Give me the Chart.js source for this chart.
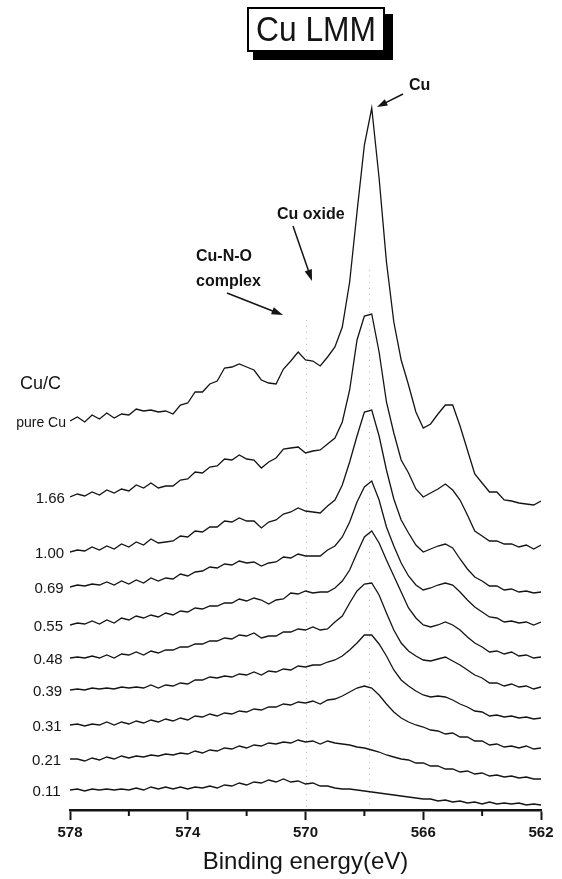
<!DOCTYPE html>
<html>
<head>
<meta charset="utf-8">
<title>Cu LMM</title>
<style>
  html, body { margin: 0; padding: 0; background: #fff; }
  #wrap { width: 562px; height: 879px; }
</style>
</head>
<body>
<div id="wrap"><canvas id="chart" width="562" height="879"></canvas></div>
<script src="https://cdn.jsdelivr.net/npm/chart.js@4.4.1/dist/chart.umd.min.js"></script>
<script>
// Cu LMM Auger spectra, stacked by Cu/C ratio

const energies = [578, 577.75, 577.5, 577.25, 577, 576.75, 576.5, 576.25, 576, 575.75,
  575.5, 575.25, 575, 574.75, 574.5, 574.25, 574, 573.75, 573.5, 573.25,
  573, 572.75, 572.5, 572.25, 572, 571.75, 571.5, 571.25, 571, 570.75,
  570.5, 570.25, 570, 569.75, 569.5, 569.25, 569, 568.75, 568.5, 568.25,
  568, 567.75, 567.5, 567.25, 567, 566.75, 566.5, 566.25, 566, 565.75,
  565.5, 565.25, 565, 564.75, 564.5, 564.25, 564, 563.75, 563.5, 563.25,
  563, 562.75, 562.5, 562.25, 562];

const seriesNames = ['pure Cu', '1.66', '1.00', '0.69', '0.55', '0.48', '0.39', '0.31', '0.21', '0.11'];

// intensities (arb. units, offset stacked)
const pureCu = [389, 393, 388, 395, 391, 397, 392, 396, 395, 401, 399, 400, 398, 399, 396, 405, 407, 418, 418, 426,
  429, 442, 443, 446, 443, 440, 430, 427, 426, 441, 449, 458, 450, 449, 444, 453, 463, 483, 528, 598,
  665, 702, 632, 548, 488, 450, 425, 398, 382, 386, 396, 405, 405, 384, 360, 336, 327, 318, 318, 310,
  309, 307, 306, 305, 309];
const r166 = [313, 316, 314, 318, 315, 320, 317, 321, 319, 325, 322, 327, 322, 324, 324, 330, 331, 338, 337, 343,
  344, 351, 350, 355, 351, 350, 342, 348, 352, 361, 362, 363, 357, 359, 360, 366, 372, 388, 420, 470,
  494, 496, 458, 408, 377, 350, 337, 321, 313, 317, 321, 326, 320, 310, 295, 279, 274, 269, 269, 266,
  266, 263, 265, 261, 265];
const r100 = [258, 260, 259, 263, 260, 264, 261, 266, 263, 268, 265, 271, 267, 268, 269, 274, 273, 279, 278, 283,
  283, 289, 288, 292, 289, 289, 282, 288, 290, 296, 298, 302, 299, 298, 297, 304, 310, 325, 348, 374,
  398, 400, 374, 340, 311, 290, 277, 265, 258, 261, 264, 266, 262, 251, 241, 233, 229, 224, 224, 220,
  221, 218, 219, 217, 218];
const r069 = [223, 225, 224, 226, 225, 228, 225, 229, 226, 230, 227, 232, 229, 232, 231, 236, 234, 238, 239, 243,
  242, 246, 245, 249, 247, 248, 244, 247, 248, 253, 252, 256, 254, 254, 254, 260, 264, 273, 288, 308,
  323, 329, 310, 283, 264, 247, 234, 225, 220, 222, 225, 227, 225, 218, 210, 203, 198, 193, 192, 188,
  189, 187, 188, 185, 188];
const r055 = [185, 187, 186, 189, 186, 190, 187, 192, 190, 194, 192, 195, 193, 197, 195, 199, 198, 202, 201, 204,
  204, 207, 207, 211, 209, 212, 210, 206, 210, 211, 217, 216, 219, 217, 218, 218, 222, 229, 240, 257,
  273, 279, 267, 250, 234, 218, 202, 192, 185, 183, 185, 188, 185, 180, 173, 167, 163, 158, 159, 156,
  158, 154, 155, 152, 153];
const r048 = [152, 153, 152, 154, 152, 155, 152, 156, 155, 158, 155, 159, 157, 160, 160, 163, 163, 166, 166, 169,
  169, 172, 171, 175, 174, 177, 172, 174, 174, 178, 178, 181, 180, 183, 180, 181, 188, 194, 207, 219,
  226, 227, 215, 197, 180, 167, 159, 154, 150, 149, 151, 153, 149, 145, 140, 135, 132, 127, 127, 124,
  126, 123, 124, 121, 123];
const r039 = [120, 121, 120, 122, 121, 122, 121, 123, 122, 123, 122, 125, 122, 125, 124, 127, 126, 130, 130, 133,
  132, 134, 133, 136, 135, 138, 135, 139, 138, 141, 140, 144, 143, 145, 145, 148, 150, 154, 160, 167,
  175, 175, 166, 154, 140, 130, 124, 119, 115, 113, 114, 113, 110, 106, 103, 99, 98, 94, 95, 93,
  94, 92, 93, 91, 92];
const r031 = [85, 86, 84, 86, 85, 88, 85, 88, 86, 89, 87, 90, 88, 91, 89, 92, 90, 94, 93, 96,
  94, 97, 96, 99, 98, 101, 100, 103, 103, 106, 105, 108, 107, 109, 106, 110, 111, 114, 118, 122,
  124, 122, 115, 106, 98, 92, 88, 85, 83, 80, 79, 76, 77, 73, 73, 69, 69, 65, 66, 63,
  64, 62, 64, 61, 62];
const r021 = [51, 51, 49, 52, 50, 53, 51, 54, 52, 54, 53, 55, 54, 56, 55, 57, 56, 59, 57, 60,
  59, 62, 61, 64, 62, 65, 64, 67, 66, 68, 67, 70, 68, 69, 66, 69, 67, 66, 65, 63,
  62, 60, 58, 55, 53, 51, 50, 47, 47, 44, 44, 41, 41, 38, 39, 36, 37, 34, 35, 33,
  34, 32, 33, 31, 31];
const r011 = [20, 21, 19, 21, 20, 21, 20, 21, 20, 22, 20, 23, 21, 23, 21, 23, 21, 23, 22, 24,
  22, 25, 24, 27, 25, 28, 27, 30, 28, 31, 28, 29, 26, 27, 24, 24, 22, 21, 21, 20,
  19, 18, 17, 16, 15, 14, 13, 12, 11, 11, 9, 10, 8, 9, 7, 8, 6, 8, 6, 7,
  6, 7, 5, 6, 5];

const allSeries = [pureCu, r166, r100, r069, r055, r048, r039, r031, r021, r011];
const majorTicks = [578, 574, 570, 566, 562];
const minorTicks = [576, 572, 568, 564];
const guideLines = [[567.85, 270], [570, 320]]; // faint dotted guides: energy, top pixel

const FONT = "'Liberation Sans', Arial, Helvetica, sans-serif";
const INK = '#141414';

function arrow(ctx, x1, y1, x2, y2, head) {
  const a = Math.atan2(y2 - y1, x2 - x1);
  ctx.beginPath();
  ctx.moveTo(x1, y1);
  ctx.lineTo(x2 - Math.cos(a) * head * 0.7, y2 - Math.sin(a) * head * 0.7);
  ctx.stroke();
  ctx.beginPath();
  ctx.moveTo(x2, y2);
  ctx.lineTo(x2 - head * Math.cos(a - 0.32), y2 - head * Math.sin(a - 0.32));
  ctx.lineTo(x2 - head * Math.cos(a + 0.32), y2 - head * Math.sin(a + 0.32));
  ctx.closePath();
  ctx.fill();
}

const guidePlugin = {
  id: 'guides',
  beforeDatasetsDraw(chart) {
    const { ctx, scales: { x }, chartArea } = chart;
    ctx.save();
    ctx.strokeStyle = '#c4c4c4';
    ctx.lineWidth = 1;
    ctx.setLineDash([1, 5]);
    guideLines.forEach(([e, top]) => {
      const px = Math.round(x.getPixelForValue(e)) + 0.5;
      ctx.beginPath();
      ctx.moveTo(px, top);
      ctx.lineTo(px, chartArea.bottom - 2);
      ctx.stroke();
    });
    ctx.restore();
  }
};

const decorPlugin = {
  id: 'decor',
  afterDraw(chart) {
    const { ctx, scales: { x, y }, chartArea } = chart;
    ctx.save();

    // minor ticks
    ctx.strokeStyle = INK;
    ctx.lineWidth = 2;
    minorTicks.forEach(v => {
      const px = x.getPixelForValue(v);
      ctx.beginPath();
      ctx.moveTo(px, chartArea.bottom);
      ctx.lineTo(px, chartArea.bottom + 6);
      ctx.stroke();
    });

    // title box with drop shadow
    ctx.fillStyle = '#000';
    ctx.fillRect(253, 14, 140, 46);
    ctx.fillStyle = '#fff';
    ctx.fillRect(247, 7, 138, 45);
    ctx.strokeStyle = '#000';
    ctx.lineWidth = 2;
    ctx.strokeRect(248, 8, 136, 43);
    ctx.fillStyle = INK;
    ctx.font = '35px ' + FONT;
    ctx.textAlign = 'center';
    ctx.textBaseline = 'alphabetic';
    const tw = ctx.measureText('Cu LMM').width;
    ctx.save();
    ctx.translate(316, 41);
    ctx.scale(120 / tw, 1);
    ctx.fillText('Cu LMM', 0, 0);
    ctx.restore();

    // series labels, placed at each trace's start
    ctx.textAlign = 'right';
    ctx.textBaseline = 'middle';
    allSeries.forEach((s, i) => {
      const py = y.getPixelForValue(s[0]) + 2;
      const rx = 66 - (py - 420) / 70;
      ctx.font = (i === 0 ? '14px ' : '15px ') + FONT;
      ctx.fillText(seriesNames[i], rx, py);
    });
    ctx.textAlign = 'left';
    ctx.font = '18px ' + FONT;
    ctx.fillText('Cu/C', 20, 384);

    // peak annotations
    ctx.font = 'bold 16px ' + FONT;
    ctx.fillText('Cu', 409, 86);
    ctx.fillText('Cu oxide', 277, 215);
    ctx.fillText('Cu-N-O', 196, 257);
    ctx.fillText('complex', 196, 282);

    ctx.strokeStyle = INK;
    ctx.fillStyle = INK;
    ctx.lineWidth = 1.5;
    arrow(ctx, 403, 94, 377, 107, 11);
    arrow(ctx, 293, 226, 312, 281, 12);
    arrow(ctx, 227, 293, 283, 315, 12);

    ctx.restore();
  }
};

const datasets = allSeries.map((s, i) => ({
  label: seriesNames[i],
  data: energies.map((e, k) => ({ x: e, y: s[k] })),
  borderColor: INK,
  borderWidth: 1.3,
  pointRadius: 0,
  tension: 0,
  fill: false
}));

new Chart(document.getElementById('chart'), {
  type: 'line',
  data: { datasets },
  options: {
    responsive: false,
    animation: false,
    devicePixelRatio: 1,
    layout: { padding: { left: 70, right: 21, top: 50, bottom: 0 } },
    plugins: {
      legend: { display: false },
      tooltip: { enabled: false },
      title: { display: false }
    },
    scales: {
      x: {
        type: 'linear',
        reverse: true,
        min: 562,
        max: 578,
        afterFit: (scale) => { scale.height = 69; },
        afterBuildTicks: (scale) => { scale.ticks = majorTicks.map(v => ({ value: v })); },
        ticks: {
          autoSkip: false,
          maxRotation: 0,
          padding: 4,
          color: INK,
          font: { family: FONT, size: 15, weight: 'bold' },
          callback: (v) => String(v)
        },
        grid: {
          drawOnChartArea: false,
          drawTicks: true,
          tickLength: 10,
          tickWidth: 2,
          tickColor: INK
        },
        border: { display: true, color: INK, width: 2.5 },
        title: {
          display: true,
          text: 'Binding energy(eV)',
          color: INK,
          font: { family: FONT, size: 24, lineHeight: 1.2 },
          padding: { top: 0, bottom: 2 }
        }
      },
      y: {
        display: false,
        min: 0,
        max: 760
      }
    }
  },
  plugins: [guidePlugin, decorPlugin]
});
</script>
</body>
</html>
